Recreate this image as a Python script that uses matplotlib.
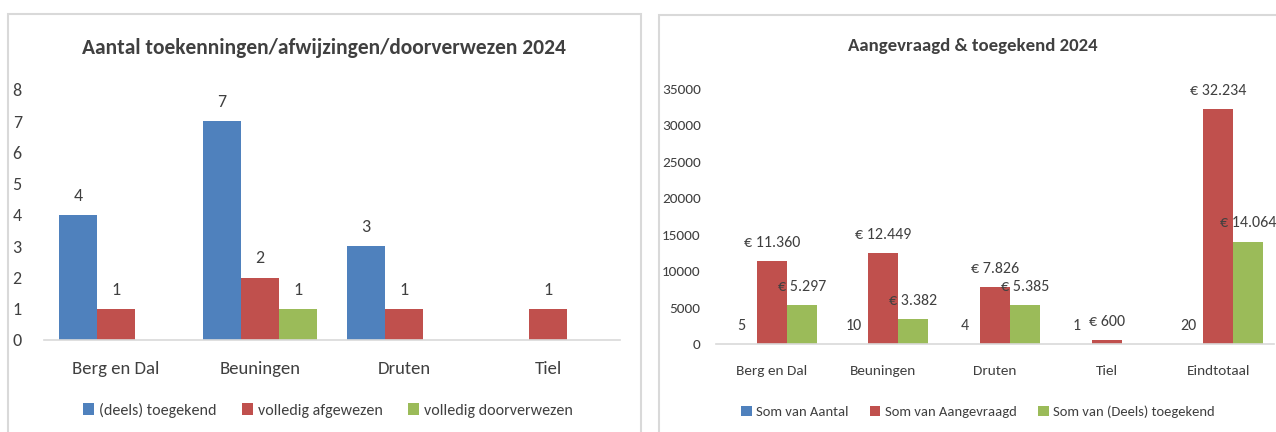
import matplotlib
matplotlib.use("Agg")
import matplotlib.pyplot as plt
from matplotlib.patches import Rectangle
import numpy as np

plt.rcParams['font.family'] = ['Carlito', 'DejaVu Sans']

# Left chart data
gemeenten = ["Berg en Dal", "Beuningen", "Druten", "Tiel"]
deels_toegekend = [4, 7, 3, 0]
volledig_afgewezen = [1, 2, 1, 1]
volledig_doorverwezen = [0, 1, 0, 0]

# Right chart data
categorieen = ["Berg en Dal", "Beuningen", "Druten", "Tiel", "Eindtotaal"]
som_aantal = [5, 10, 4, 1, 20]
som_aangevraagd = [11360, 12449, 7826, 600, 32234]
som_toegekend = [5297, 3382, 5385, 0, 14064]

blue = '#4F81BD'
red = '#C0504D'
green = '#9BBB59'
txt = '#404040'
line_grey = '#D9D9D9'


def euro(v):
    return "€ " + f"{v:,}".replace(",", ".")


def style_axes(ax):
    for s in ['top', 'right', 'left']:
        ax.spines[s].set_visible(False)
    ax.spines['bottom'].set_color(line_grey)
    ax.spines['bottom'].set_linewidth(1.2)
    ax.tick_params(axis='both', length=0, colors=txt, labelsize=12)


W, H = 1276, 432
fig = plt.figure(figsize=(W / 100, H / 100), dpi=100)

# panel borders
fig.patches.append(Rectangle((8 / W, -0.05), (641 - 8) / W, (H - 14) / H + 0.05,
                             transform=fig.transFigure, fill=False,
                             edgecolor=line_grey, linewidth=1.5))
fig.patches.append(Rectangle((659 / W, -0.05), 0.5, (H - 15) / H + 0.05,
                             transform=fig.transFigure, fill=False,
                             edgecolor=line_grey, linewidth=1.5))

# ---- left chart ----
ax1 = fig.add_axes([44 / W, 92 / H, 576 / W, 250 / H])
x = np.arange(len(gemeenten))
w = 0.264
b1 = ax1.bar(x - w, deels_toegekend, w, color=blue, label='(deels) toegekend')
b2 = ax1.bar(x, volledig_afgewezen, w, color=red, label='volledig afgewezen')
b3 = ax1.bar(x + w, volledig_doorverwezen, w, color=green, label='volledig doorverwezen')
for bars, vals in [(b1, deels_toegekend), (b2, volledig_afgewezen), (b3, volledig_doorverwezen)]:
    ax1.bar_label(bars, labels=[str(v) if v else '' for v in vals],
                  padding=8, color=txt, fontsize=13)
ax1.set_ylim(0, 8)
ax1.set_xlim(-0.5, len(gemeenten) - 0.5)
ax1.set_yticks(range(0, 9))
ax1.set_xticks(x)
ax1.set_xticklabels(gemeenten)
style_axes(ax1)
ax1.tick_params(axis='y', pad=16, labelsize=13)
ax1.tick_params(axis='x', pad=15, labelsize=13.5)
ax1.set_title("Aantal toekenningen/afwijzingen/doorverwezen 2024", x=0.486,
              fontsize=15.5, fontweight='bold', color=txt, pad=26)
ax1.legend(loc='center', bbox_to_anchor=(328 / W, 1 - 410 / H),
           bbox_transform=fig.transFigure, ncol=3, frameon=False,
           fontsize=11.5, labelcolor=txt, handlelength=0.7, handleheight=0.7,
           handletextpad=0.3, columnspacing=1.6)

# ---- right chart ----
ax2 = fig.add_axes([716 / W, 88 / H, 558 / W, 255 / H])
x2 = np.arange(len(categorieen))
w2 = 0.269
c1 = ax2.bar(x2 - w2, som_aantal, w2, color=blue, label='Som van Aantal')
c2 = ax2.bar(x2, som_aangevraagd, w2, color=red, label='Som van Aangevraagd')
c3 = ax2.bar(x2 + w2, som_toegekend, w2, color=green, label='Som van (Deels) toegekend')
ax2.bar_label(c1, labels=[str(v) for v in som_aantal], padding=8, color=txt, fontsize=11.5)
ax2.bar_label(c2, labels=[euro(v) for v in som_aangevraagd], padding=8, color=txt, fontsize=11.5)
ax2.bar_label(c3, labels=[euro(v) if v else '' for v in som_toegekend], padding=8,
              color=txt, fontsize=11.5)
ax2.set_ylim(0, 35000)
ax2.set_xlim(-0.5, len(categorieen) - 0.5)
ax2.set_yticks(range(0, 35001, 5000))
ax2.set_xticks(x2)
ax2.set_xticklabels(categorieen)
style_axes(ax2)
ax2.tick_params(axis='y', pad=11, labelsize=11)
ax2.tick_params(axis='x', pad=15, labelsize=11)
ax2.set_title("Aangevraagd & toegekend 2024", x=0.461,
              fontsize=13.5, fontweight='bold', color=txt, pad=27)
ax2.legend(loc='center', bbox_to_anchor=(978 / W, 1 - 412 / H),
           bbox_transform=fig.transFigure, ncol=3, frameon=False,
           fontsize=10.5, labelcolor=txt, handlelength=0.7, handleheight=0.7,
           handletextpad=0.3, columnspacing=1.5)

fig.savefig("out.png", dpi=100)
